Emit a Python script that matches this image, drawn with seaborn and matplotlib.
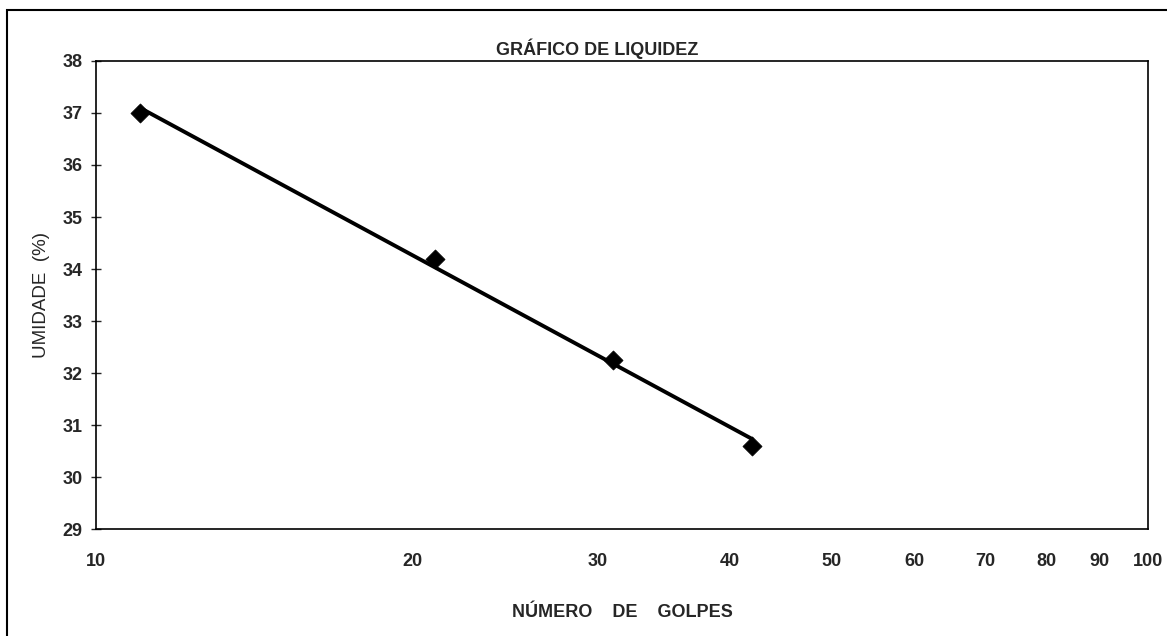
import numpy as np
import pandas as pd
import matplotlib
matplotlib.use("Agg")
import matplotlib.pyplot as plt
from matplotlib.patches import Rectangle
from matplotlib.ticker import FixedLocator, NullLocator
import seaborn as sns

# leitura do gráfico
golpes = [11, 21, 31, 42]
umidade = [37.0, 34.2, 32.25, 30.6]
x_ticks = [10, 20, 30, 40, 50, 60, 70, 80, 90, 100]
y_ticks = [29, 30, 31, 32, 33, 34, 35, 36, 37, 38]

df = pd.DataFrame({"golpes": golpes, "umidade": umidade})

sns.set_style("white")
plt.rcParams["font.family"] = ["Liberation Sans", "DejaVu Sans"]

fig = plt.figure(figsize=(11.67, 6.36), dpi=100)
ax = fig.add_axes([0.0823, 0.1682, 0.9014, 0.7359])

sns.regplot(
    data=df, x="golpes", y="umidade", logx=True, ci=None, ax=ax,
    color="black", marker="D",
    scatter_kws={"s": 95, "edgecolor": "black", "linewidths": 0.5, "alpha": 1},
    line_kws={"lw": 2.8},
)

ax.set_xscale("log")
ax.set_xlim(10, 100)
ax.set_ylim(29, 38)
ax.xaxis.set_major_locator(FixedLocator(x_ticks))
ax.xaxis.set_minor_locator(NullLocator())
ax.set_xticklabels([str(t) for t in x_ticks], fontsize=13, fontweight="bold")
ax.set_yticks(y_ticks)
ax.set_yticklabels([str(t) for t in y_ticks], fontsize=13, fontweight="bold")
ax.tick_params(axis="x", length=0, pad=17)
ax.tick_params(axis="y", direction="inout", length=7, width=1, pad=6, left=True)

for s in ax.spines.values():
    s.set_color("black")
    s.set_linewidth(1.2)

ax.set_xlabel("NÚMERO    DE    GOLPES", fontsize=13, fontweight="bold", labelpad=25)
ax.set_ylabel("UMIDADE  (%)", fontsize=13.5, labelpad=9)

ax.text(0.476, 1.004, "GRÁFICO DE LIQUIDEZ", transform=ax.transAxes,
        ha="center", va="bottom", fontsize=13, fontweight="bold")

# moldura externa
fig.add_artist(Rectangle((0.006, -0.01), 1.0, 0.994, transform=fig.transFigure,
                         fill=False, edgecolor="black", linewidth=1.5))

fig.savefig("out.png", dpi=100)
